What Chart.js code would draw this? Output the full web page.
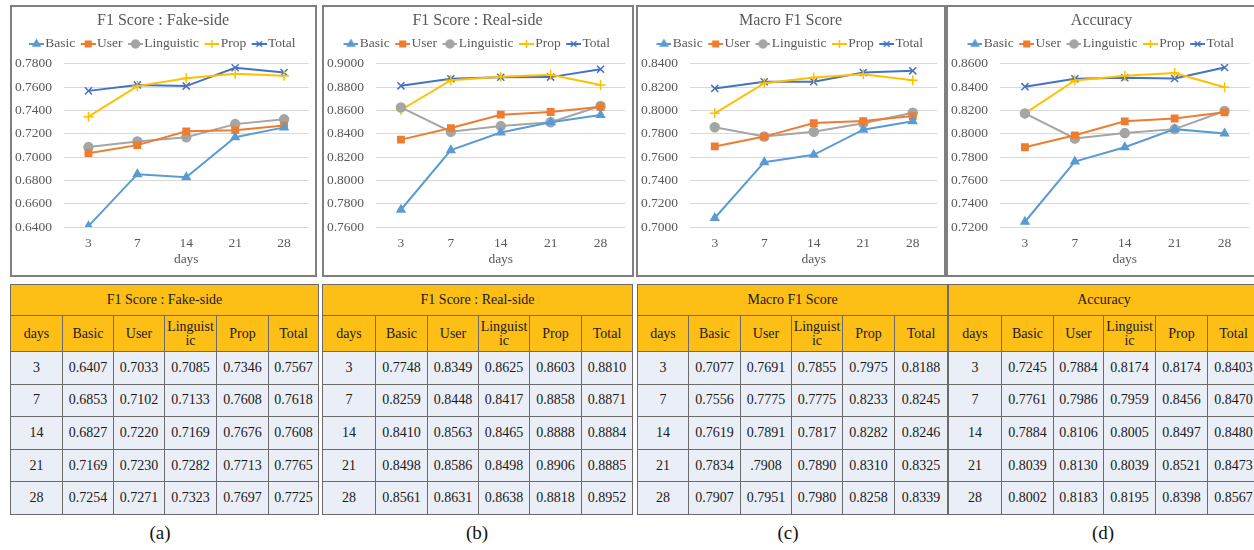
<!DOCTYPE html>
<html>
<head>
<meta charset="utf-8">
<script src="https://cdn.jsdelivr.net/npm/chart.js@4"></script>
<style>
  body { margin: 0; width: 1254px; height: 550px; overflow: hidden; background: #fff; position: relative;
         font-family: "Liberation Serif", "Times New Roman", serif; }
  .box { position: absolute; top: 5px; height: 272px; border: 2px solid #7f7f7f; box-sizing: border-box; background: #fff; }
  .tbl { position: absolute; top: 284px; border-collapse: collapse; table-layout: fixed; font-size: 14px; color: #1a1a1a; }
  .tbl td { border: 1.5px solid #6b6b6b; text-align: center; padding: 0; background: #eaeef6; }
  .tbl tr.ttl td { background: #fdbf15; height: 30px; }
  .tbl tr.hdr td { background: #fdbf15; height: 35px; line-height: 14px; }
  .tbl tr.row td { height: 31.6px; }
  .cap { position: absolute; top: 522px; width: 60px; text-align: center; font-size: 19px; color: #111; }
</style>
</head>
<body>

<div class="box" style="left:10px;width:307px"><canvas id="chartA"></canvas></div>
<div class="box" style="left:322px;width:312px"><canvas id="chartB"></canvas></div>
<div class="box" style="left:636px;width:310px"><canvas id="chartC"></canvas></div>
<div class="box" style="left:946px;width:312px"><canvas id="chartD"></canvas></div>

<div id="tables"></div>

<div class="cap" style="left:130px">(a)</div>
<div class="cap" style="left:447px">(b)</div>
<div class="cap" style="left:758px">(c)</div>
<div class="cap" style="left:1073px">(d)</div>

<script>
// ===== data =====
const days = ['3', '7', '14', '21', '28'];
const seriesNames = ['Basic', 'User', 'Linguistic', 'Prop', 'Total'];

// F1 Score : Fake-side
const fakeBasic = [0.6407, 0.6853, 0.6827, 0.7169, 0.7254];
const fakeUser  = [0.7033, 0.7102, 0.7220, 0.7230, 0.7271];
const fakeLing  = [0.7085, 0.7133, 0.7169, 0.7282, 0.7323];
const fakeProp  = [0.7346, 0.7608, 0.7676, 0.7713, 0.7697];
const fakeTotal = [0.7567, 0.7618, 0.7608, 0.7765, 0.7725];
const fakeRange = [0.64, 0.78];

// F1 Score : Real-side
const realBasic = [0.7748, 0.8259, 0.8410, 0.8498, 0.8561];
const realUser  = [0.8349, 0.8448, 0.8563, 0.8586, 0.8631];
const realLing  = [0.8625, 0.8417, 0.8465, 0.8498, 0.8638];
const realProp  = [0.8603, 0.8858, 0.8888, 0.8906, 0.8818];
const realTotal = [0.8810, 0.8871, 0.8884, 0.8885, 0.8952];
const realRange = [0.76, 0.90];

// Macro F1 Score
const macroBasic = [0.7077, 0.7556, 0.7619, 0.7834, 0.7907];
const macroUser  = [0.7691, 0.7775, 0.7891, 0.7908, 0.7951];
const macroLing  = [0.7855, 0.7775, 0.7817, 0.7890, 0.7980];
const macroProp  = [0.7975, 0.8233, 0.8282, 0.8310, 0.8258];
const macroTotal = [0.8188, 0.8245, 0.8246, 0.8325, 0.8339];
const macroRange = [0.70, 0.84];

// Accuracy
const accBasic = [0.7245, 0.7761, 0.7884, 0.8039, 0.8002];
const accUser  = [0.7884, 0.7986, 0.8106, 0.8130, 0.8183];
const accLing  = [0.8174, 0.7959, 0.8005, 0.8039, 0.8195];
const accProp  = [0.8174, 0.8456, 0.8497, 0.8521, 0.8398];
const accTotal = [0.8403, 0.8470, 0.8480, 0.8473, 0.8567];
const accRange = [0.72, 0.86];

// the printed table has one cell written without the leading zero
const macroTableText = { '3,1': '.7908' };

// ===== styles =====
const colors = ['#5b9bd5', '#ed7d31', '#a5a5a5', '#ffc000', '#4472c4'];
const pointStyles = ['triangle', 'rect', 'circle', 'cross', 'crossRot'];
const pointSizes = [4.5, 4.5, 4.5, 5, 5];
const serif = '"Liberation Serif", "Times New Roman", serif';
const textGray = '#595959';

const panels = [
  { id: 'chartA', title: 'F1 Score : Fake-side', series: [fakeBasic, fakeUser, fakeLing, fakeProp, fakeTotal], range: fakeRange, left: 10, widths: [52, 51, 51, 52, 52, 50] },
  { id: 'chartB', title: 'F1 Score : Real-side', series: [realBasic, realUser, realLing, realProp, realTotal], range: realRange, left: 322, widths: [53, 52, 51, 51, 52, 51] },
  { id: 'chartC', title: 'Macro F1 Score', series: [macroBasic, macroUser, macroLing, macroProp, macroTotal], range: macroRange, left: 637, widths: [51, 52, 51, 51, 52, 53], override: macroTableText },
  { id: 'chartD', title: 'Accuracy', series: [accBasic, accUser, accLing, accProp, accTotal], range: accRange, left: 948, widths: [53, 52, 50, 52, 52, 52] }
];

// legend icon: short line with the marker in the middle (Excel style).
// The canvas is centred on the legend box, so the line sits in its right part
// and runs up to the label text.
function legendIcon(i) {
  const c = document.createElement('canvas');
  c.width = 19; c.height = 12;
  const ctx = c.getContext('2d');
  ctx.strokeStyle = colors[i];
  ctx.fillStyle = colors[i];
  ctx.lineWidth = 2;
  ctx.beginPath(); ctx.moveTo(4, 6); ctx.lineTo(19, 6); ctx.stroke();
  ctx.lineWidth = 1.5;
  Chart.helpers.drawPoint(ctx, { pointStyle: pointStyles[i], radius: 4, borderWidth: 1.5, rotation: 0 }, 11.5, 6);
  return c;
}
const icons = seriesNames.map((n, i) => legendIcon(i));

// a little extra room under the legend
const legendGap = {
  id: 'legendGap',
  beforeInit(chart) {
    const fit = chart.legend.fit;
    chart.legend.fit = function () { fit.call(this); this.height += 3; };
  }
};

panels.forEach(p => {
  new Chart(document.getElementById(p.id), {
    type: 'line',
    data: {
      labels: days,
      datasets: p.series.map((vals, i) => ({
        label: seriesNames[i],
        data: vals,
        borderColor: colors[i],
        backgroundColor: colors[i],
        borderWidth: 2,
        pointStyle: pointStyles[i],
        pointRadius: pointSizes[i],
        pointBorderWidth: 1.5,
        tension: 0
      }))
    },
    plugins: [legendGap],
    options: {
      responsive: true,
      maintainAspectRatio: false,
      animation: false,
      layout: { padding: { left: 2, right: 3, top: 0, bottom: 9 } },
      plugins: {
        title: {
          display: true, text: p.title, color: textGray,
          font: { family: serif, size: 16, weight: 'normal' },
          padding: { top: 4, bottom: 0 }
        },
        legend: {
          labels: {
            usePointStyle: true, pointStyleWidth: 8, boxHeight: 12, padding: 7,
            color: textGray, font: { family: serif, size: 13.5 },
            generateLabels: chart => Chart.defaults.plugins.legend.labels.generateLabels(chart)
              .map((l, i) => Object.assign(l, { pointStyle: icons[i] }))
          }
        },
        tooltip: { enabled: false }
      },
      scales: {
        x: {
          offset: true,
          grid: { display: false, drawTicks: false },
          border: { display: false },
          ticks: { color: textGray, font: { family: serif, size: 13.5, lineHeight: 1 }, padding: 10 },
          title: { display: true, text: 'days', color: textGray, font: { family: serif, size: 13.5, lineHeight: 1 }, padding: { top: -8, bottom: 0 } }
        },
        y: {
          min: p.range[0], max: p.range[1],
          afterFit: s => { s.width = 50; },
          ticks: { stepSize: 0.02, color: textGray, font: { family: serif, size: 13.5 }, padding: 12,
                   callback: v => v.toFixed(4) },
          grid: { color: '#d9d9d9', drawTicks: false },
          border: { display: false }
        }
      }
    }
  });
});

// ===== tables under each chart =====
const holder = document.getElementById('tables');
panels.forEach(p => {
  const t = document.createElement('table');
  t.className = 'tbl';
  t.style.left = p.left + 'px';
  const total = p.widths.reduce((a, b) => a + b, 0);
  t.style.width = total + 'px';
  let html = '<colgroup>' + p.widths.map(w => `<col style="width:${w}px">`).join('') + '</colgroup>';
  html += `<tr class="ttl"><td colspan="6">${p.title}</td></tr>`;
  html += '<tr class="hdr"><td>days</td><td>Basic</td><td>User</td><td>Linguist<br>ic</td><td>Prop</td><td>Total</td></tr>';
  days.forEach((d, r) => {
    html += `<tr class="row"><td>${d}</td>` + p.series.map((vals, c) => {
      const txt = (p.override && p.override[r + ',' + c]) || vals[r].toFixed(4);
      return `<td>${txt}</td>`;
    }).join('') + '</tr>';
  });
  t.innerHTML = html;
  holder.appendChild(t);
});
</script>
</body>
</html>
